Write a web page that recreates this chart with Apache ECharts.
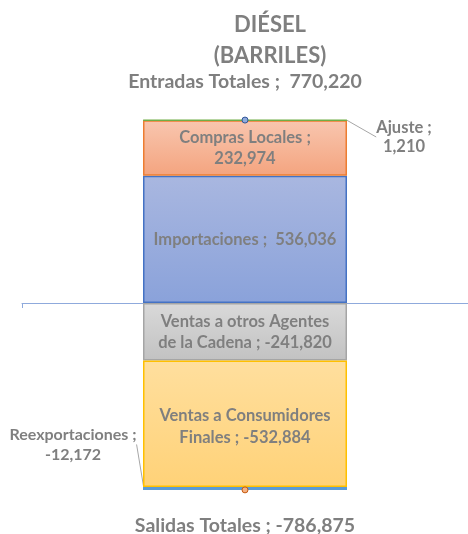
<!DOCTYPE html>
<html>
<head>
<meta charset="utf-8">
<script src="https://cdn.jsdelivr.net/npm/echarts@6/dist/echarts.min.js"></script>
<style>
  html, body { margin: 0; padding: 0; background: #fff; }
  #chart { width: 468px; height: 534px; }
</style>
</head>
<body>
<div id="chart"></div>
<script>
// datos del balance de diesel (barriles)
var categorias = ['Diésel'];
var nombres = ['Importaciones', 'Compras Locales', 'Ajuste',
    'Ventas a otros Agentes de la Cadena', 'Ventas a Consumidores Finales', 'Reexportaciones'];
var etiquetas = ['Importaciones ;  ', 'Compras Locales ;\n', 'Ajuste ;\n',
    'Ventas a otros Agentes\nde la Cadena ; ', 'Ventas a Consumidores\nFinales ; ', 'Reexportaciones ;\n'];
var valores = [536036, 232974, 1210, -241820, -532884, -12172];
var totalEntradas = [770220];
var totalSalidas = [-786875];

var gris = '#7f7f7f';
var fuente = 'Lato';

function grad(a, b) {
    return new echarts.graphic.LinearGradient(0, 0, 0, 1, [
        { offset: 0, color: a }, { offset: 1, color: b }
    ]);
}
function fmt(v) {
    return v.toLocaleString('en-US');
}

var estilos = [
    { color: grad('#a9b7e0', '#8aa2da'), borderColor: '#4472c4' },
    { color: grad('#f8c6af', '#f4a47f'), borderColor: '#ed7d31' },
    { color: '#70ad47', borderColor: '#70ad47' },
    { color: grad('#d9d9d9', '#c2c2c2'), borderColor: '#a5a5a5' },
    { color: grad('#ffdf9e', '#ffd278'), borderColor: '#ffc000' },
    { color: '#9dc3e6', borderColor: '#5b9bd5' }
];

var series = [];
nombres.forEach(function (n, i) {
    var s = {
        name: n,
        type: 'bar',
        stack: 'balance',
        barWidth: 204,
        data: [valores[i]],
        itemStyle: { color: estilos[i].color, borderColor: estilos[i].borderColor, borderWidth: 1.5 },
        label: {
            show: true,
            position: 'inside',
            color: gris,
            fontFamily: fuente,
            fontWeight: 'bold',
            fontSize: 16.5,
            lineHeight: 21,
            align: 'center',
            formatter: (function (k) {
                return function (p) { return etiquetas[k] + fmt(p.value); };
            })(i)
        }
    };
    if (i === 4) {
        s.label.lineHeight = 22;
        s.label.offset = [0, 3];
    }
    if (i === 2) {
        s.label.position = 'right';
        s.label.lineHeight = 19;
        s.labelLayout = { x: 404, y: 137, align: 'center', verticalAlign: 'middle' };
        s.labelLine = { show: true, lineStyle: { color: '#a6a6a6', width: 1 } };
    }
    if (i === 5) {
        s.label.position = 'left';
        s.label.fontSize = 16;
        s.label.lineHeight = 20;
        s.labelLayout = { dx: -65, dy: -44, align: 'center', verticalAlign: 'middle' };
        s.labelLine = { show: true, lineStyle: { color: '#a6a6a6', width: 1 } };
    }
    series.push(s);
});

series.push({
    name: 'Entradas Totales',
    type: 'line',
    data: totalEntradas,
    symbol: 'circle',
    symbolSize: 6,
    z: 5,
    itemStyle: { color: '#8faadc', borderColor: '#2f5597', borderWidth: 1 },
    label: {
        show: true, position: 'top', distance: 25,
        color: gris, fontFamily: fuente, fontWeight: 'bold', fontSize: 19.5,
        formatter: function (p) { return 'Entradas Totales ;  ' + fmt(p.value); }
    }
});
series.push({
    name: 'Salidas Totales',
    type: 'line',
    data: totalSalidas,
    symbol: 'circle',
    symbolSize: 6,
    z: 5,
    itemStyle: { color: '#f4b183', borderColor: '#c55a11', borderWidth: 1 },
    label: {
        show: true, position: 'bottom', distance: 22,
        color: gris, fontFamily: fuente, fontWeight: 'bold', fontSize: 19.5,
        formatter: function (p) { return 'Salidas Totales ; ' + fmt(p.value); }
    }
});

var chart = echarts.init(document.getElementById('chart'));
chart.setOption({
    animation: false,
    title: {
        text: 'DIÉSEL\n(BARRILES)',
        left: 265,
        top: 4,
        textAlign: 'center',
        textStyle: { color: gris, fontFamily: fuente, fontWeight: 'bold', fontSize: 22, lineHeight: 31 }
    },
    grid: { left: 22, right: -6, top: 113, bottom: 41 },
    xAxis: {
        type: 'category',
        data: categorias,
        axisLine: { show: true, onZero: true, lineStyle: { color: '#8faadc', width: 1 } },
        axisTick: { show: true, length: 5, lineStyle: { color: '#8faadc' } },
        axisLabel: { show: false }
    },
    yAxis: {
        type: 'value',
        min: -800000,
        max: 800000,
        show: false,
        splitLine: { show: false }
    },
    series: series
});
</script>
</body>
</html>
